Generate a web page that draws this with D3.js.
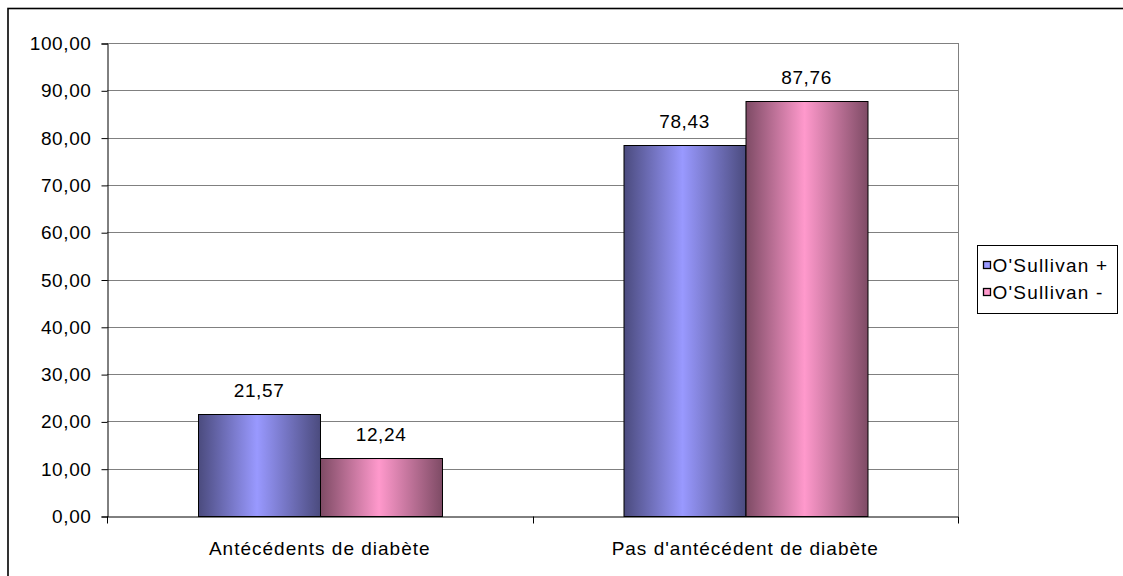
<!DOCTYPE html>
<html>
<head>
<meta charset="utf-8">
<script src="https://cdn.jsdelivr.net/npm/d3@7"></script>
<style>
  html, body { margin: 0; padding: 0; background: #fff; }
  svg { display: block; font-family: "Liberation Sans", Arial, sans-serif; }
</style>
</head>
<body>
<svg id="chart" width="1123" height="576"></svg>
<script>
const categories = ["Antécédents de diabète", "Pas d'antécédent de diabète"];
const seriesNames = ["O'Sullivan +", "O'Sullivan -"];
const valuesPlus = [21.57, 78.43];
const valuesMinus = [12.24, 87.76];
const yTicks = [0, 10, 20, 30, 40, 50, 60, 70, 80, 90, 100];
const seriesColors = [
  { dark: "#4b4b7e", light: "#9999ff" },
  { dark: "#7e4b65", light: "#ff99cc" }
];

const svg = d3.select("#chart");
const fmt = v => v.toFixed(2).replace(".", ",");
const FONT = "Liberation Sans, Arial, sans-serif";

// outer frame (right/bottom edges outside the picture)
svg.append("rect").attr("x", 8).attr("y", 8.5).attr("width", 1130).attr("height", 580)
  .attr("fill", "none").attr("stroke", "#000").attr("stroke-width", 1.6);

const plot = { left: 107, right: 958, top: 43, bottom: 516 };

const x0 = d3.scaleBand().domain(categories).range([plot.left, plot.right]).padding(0);
const x1 = d3.scaleBand().domain(seriesNames).range([0, x0.bandwidth()])
  .paddingInner(0).paddingOuter(0.744);
const y = d3.scaleLinear().domain([0, 100]).range([plot.bottom, plot.top]);

// gradients
const defs = svg.append("defs");
seriesColors.forEach((c, i) => {
  const g = defs.append("linearGradient").attr("id", "grad" + i)
    .attr("x1", "0%").attr("x2", "100%").attr("y1", "0%").attr("y2", "0%");
  g.append("stop").attr("offset", "0%").attr("stop-color", c.dark);
  g.append("stop").attr("offset", "48%").attr("stop-color", c.light);
  g.append("stop").attr("offset", "100%").attr("stop-color", c.dark);
});

// gridlines
svg.append("g").selectAll("line").data(yTicks.filter(t => t > 0)).join("line")
  .attr("x1", plot.left).attr("x2", plot.right)
  .attr("y1", d => Math.round(y(d)) + 0.5).attr("y2", d => Math.round(y(d)) + 0.5)
  .attr("stroke", "#808080").attr("stroke-width", 1);

// plot area right border
svg.append("line").attr("x1", plot.right + 0.5).attr("x2", plot.right + 0.5)
  .attr("y1", plot.top).attr("y2", plot.bottom).attr("stroke", "#808080");

// bars
const data = categories.map((c, i) => ({ cat: c, vals: [valuesPlus[i], valuesMinus[i]] }));
const groups = svg.append("g").selectAll("g").data(data).join("g")
  .attr("transform", d => `translate(${x0(d.cat)},0)`);
groups.selectAll("rect").data(d => d.vals.map((v, j) => ({ v, j }))).join("rect")
  .attr("x", d => Math.round(x1(seriesNames[d.j])) + 0.5)
  .attr("y", d => Math.round(y(d.v)) + 0.5)
  .attr("width", x1.bandwidth())
  .attr("height", d => Math.round(y(0)) - Math.round(y(d.v)))
  .attr("fill", d => `url(#grad${d.j})`)
  .attr("stroke", "#000").attr("stroke-width", 1);

// value labels
groups.selectAll("text").data(d => d.vals.map((v, j) => ({ v, j }))).join("text")
  .attr("x", d => x1(seriesNames[d.j]) + x1.bandwidth() / 2 + 0.3)
  .attr("y", d => y(d.v) - 17)
  .attr("text-anchor", "middle").attr("font-size", 19).attr("letter-spacing", 0.6)
  .attr("fill", "#000").text(d => fmt(d.v));

// y axis
const yAxis = d3.axisLeft(y).tickValues(yTicks).tickFormat(fmt).tickSize(6).tickPadding(10);
const gy = svg.append("g").attr("transform", `translate(${plot.left + 0.5},0.5)`).call(yAxis);
gy.select(".domain").attr("stroke", "#000");
gy.selectAll(".tick line").attr("stroke", "#000");
gy.selectAll(".tick text").attr("font-size", 19).attr("fill", "#000")
  .attr("font-family", FONT).attr("letter-spacing", 0.6);

// x axis
const xAxis = d3.axisBottom(x0).tickSize(0).tickPadding(0);
const gx = svg.append("g").attr("transform", `translate(0,${plot.bottom + 0.5})`).call(xAxis);
gx.select(".domain").attr("stroke", "#000");
gx.selectAll(".tick text").attr("font-size", 19).attr("fill", "#000")
  .attr("font-family", FONT).attr("letter-spacing", 1).attr("dy", 0).attr("y", 38);
// category boundary ticks
const bounds = [plot.left, plot.left + x0.bandwidth(), plot.right];
gx.append("g").selectAll("line").data(bounds).join("line")
  .attr("x1", d => Math.round(d) + 0.5).attr("x2", d => Math.round(d) + 0.5)
  .attr("y1", 0).attr("y2", 7).attr("stroke", "#000");

// legend
const lg = svg.append("g").attr("transform", "translate(977.5,245.5)");
lg.append("rect").attr("width", 140).attr("height", 68).attr("fill", "#fff")
  .attr("stroke", "#000").attr("stroke-width", 1);
const items = lg.selectAll("g").data(seriesNames).join("g")
  .attr("transform", (d, i) => `translate(0,${20 + i * 27})`);
items.append("rect").attr("x", 6).attr("y", -4).attr("width", 7).attr("height", 7)
  .attr("fill", (d, i) => seriesColors[i].light).attr("stroke", "#000").attr("stroke-width", 1.3);
items.append("text").attr("x", 15).attr("y", 6.5).attr("font-size", 19).attr("fill", "#000")
  .attr("letter-spacing", 1.2).text(d => d);
</script>
</body>
</html>
